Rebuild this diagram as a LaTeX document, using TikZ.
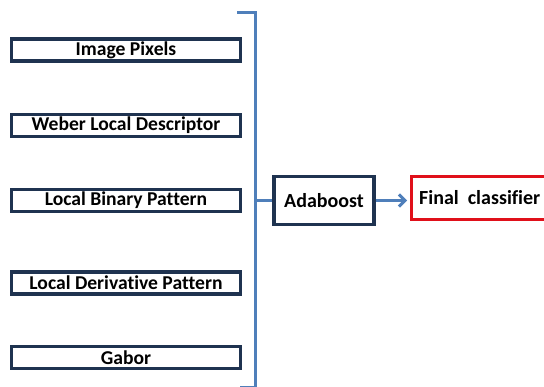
\documentclass[tikz,border=0pt]{standalone}
\usepackage{fontspec}
\setmainfont{Carlito}[Ligatures=CommonOff]
\usetikzlibrary{arrows.meta}
\definecolor{navy}{HTML}{1F3350}
\definecolor{lineblue}{HTML}{4F7FBA}
\definecolor{redb}{HTML}{E0101A}
\begin{document}
\begin{tikzpicture}[x=1pt,y=-1pt,
  feat/.style={draw=navy,line width=3.2pt,minimum width=229pt,minimum height=22pt,inner sep=0pt,font=\bfseries\fontsize{19.6}{21}\selectfont,text=black},
  ada/.style={draw=navy,line width=3.2pt,minimum width=100pt,minimum height=48pt,inner sep=0pt,font=\bfseries\fontsize{20}{22}\selectfont},
  fin/.style={draw=redb,line width=3.2pt,minimum width=150pt,minimum height=43pt,inner sep=0pt},
  conn/.style={draw=lineblue,line width=3pt}]
\useasboundingbox (0,0) rectangle (544,387);
\clip (0,0) rectangle (544,387);
\node[feat] (ip) at (126,50) {Image Pixels};
\node[feat] (wld) at (126,125.5) {Weber Local Descriptor};
\node[feat] (lbp) at (126,200.5) {Local Binary Pattern};
\node[feat] (ldp) at (126,283) {Local Derivative Pattern};
\node[feat] (gab) at (126,357.5) {Gabor};
\node[ada] (ab) at (324,200.5) {Adaboost};
\node[fin,anchor=west] (fc) at (410,198) {};
\node[anchor=west,inner sep=0pt,font=\bfseries\fontsize{20}{22}\selectfont] (fct) at (419,198) {Final\ \ classifier};
\coordinate (tl) at (237,13);
\coordinate (tr) at (255,13);
\coordinate (br) at (255,388);
\coordinate (bl) at (240,388);
\coordinate (mid) at (255,200.5);
\coordinate (arr) at (fc.west |- ab.east);
\draw[conn] (tl) -- (tr) -- (br) -- (bl);
\draw[conn] (mid) -- (ab.west);
\draw[conn,-{Straight Barb[length=6pt,width=12pt]}] (ab.east) -- ([xshift=-3pt]arr);
\end{tikzpicture}
\end{document}
